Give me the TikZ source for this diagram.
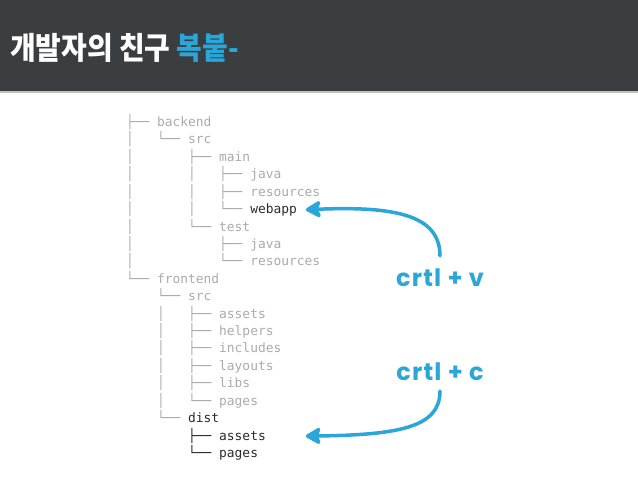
\documentclass[tikz,border=0pt]{standalone}
\usepackage{fontspec}
\usetikzlibrary{arrows.meta,positioning}

\newfontfamily\titlefont{Noto Sans CJK KR}[FakeStretch=0.9]
\newfontfamily\treefont{DejaVu Sans Mono}
\newfontfamily\keyfont{Poppins}[LetterSpace=5]

\definecolor{headbg}{HTML}{3B3E41}
\definecolor{copyblue}{HTML}{2AA6D8}
\definecolor{treegray}{HTML}{ABABAB}
\definecolor{treedark}{HTML}{2B2B2B}

\begin{document}
\begin{tikzpicture}[
    x=1pt, y=1pt,
    treeline/.style={
        font=\treefont\fontsize{12.9}{14}\selectfont,
        inner sep=0pt,
        outer sep=0pt,
        text height=10pt,
        text depth=3pt,
        anchor=base west
    },
    keylabel/.style={
        font=\keyfont\bfseries\fontsize{24}{27}\selectfont,
        text=copyblue,
        inner sep=1pt
    },
    brush/.style={
        draw=copyblue,
        line width=3.5pt,
        line cap=round,
        -{Stealth[length=18pt,width=20pt,inset=4pt,round]}
    }
]
\useasboundingbox (0,0) rectangle (638,479);
\fill[white] (0,0) rectangle (638,479);

% header bar
\fill[headbg] (0,387) rectangle (638,479);
\fill[gray!50] (0,385.5) rectangle (638,387.5);
\node[anchor=base west, inner sep=0pt, text=white,
      font=\titlefont\bfseries\fontsize{31}{34}\selectfont] (title) at (10,419)
      {개발자의 친구 \textcolor{copyblue}{복붙-}};

% directory tree
\node[treeline] (l1) at (126,352.5) {\textcolor{treegray}{├──~backend}};
\foreach \pre/\word/\pc/\wc [count=\i from 2, remember=\i as \j (initially 1)] in {
    │~~~└──~/src/treegray/treegray,
    │~~~~~~~├──~/main/treegray/treegray,
    │~~~~~~~│~~~├──~/java/treegray/treegray,
    │~~~~~~~│~~~├──~/resources/treegray/treegray,
    │~~~~~~~│~~~└──~/webapp/treegray/treedark,
    │~~~~~~~└──~/test/treegray/treegray,
    │~~~~~~~~~~~├──~/java/treegray/treegray,
    │~~~~~~~~~~~└──~/resources/treegray/treegray,
    └──~/frontend/treegray/treegray,
    ~~~~└──~/src/treegray/treegray,
    ~~~~│~~~├──~/assets/treegray/treegray,
    ~~~~│~~~├──~/helpers/treegray/treegray,
    ~~~~│~~~├──~/includes/treegray/treegray,
    ~~~~│~~~├──~/layouts/treegray/treegray,
    ~~~~│~~~├──~/libs/treegray/treegray,
    ~~~~│~~~└──~/pages/treegray/treegray,
    ~~~~└──~/dist/treegray/treedark,
    ~~~~~~~~├──~/assets/treedark/treedark,
    ~~~~~~~~└──~/pages/treedark/treedark}
    \node[treeline, below right=4.42pt and 0pt of l\j.south west] (l\i)
        {\textcolor{\pc}{\pre}\textcolor{\wc}{\word}};

% shortcut labels
\node[keylabel] (paste) at (440,201) {crtl + v};
\node[keylabel] (copy) at (440,107) {crtl + c};

\draw[brush, shorten <=12pt, shorten >=9pt]
    (paste.north) .. controls (440,264) and (395,273) .. (l6.east);
\draw[brush, shorten <=9pt, shorten >=40pt]
    (copy.south) .. controls (440,52) and (400,44) .. (l19.east);

\end{tikzpicture}
\end{document}
